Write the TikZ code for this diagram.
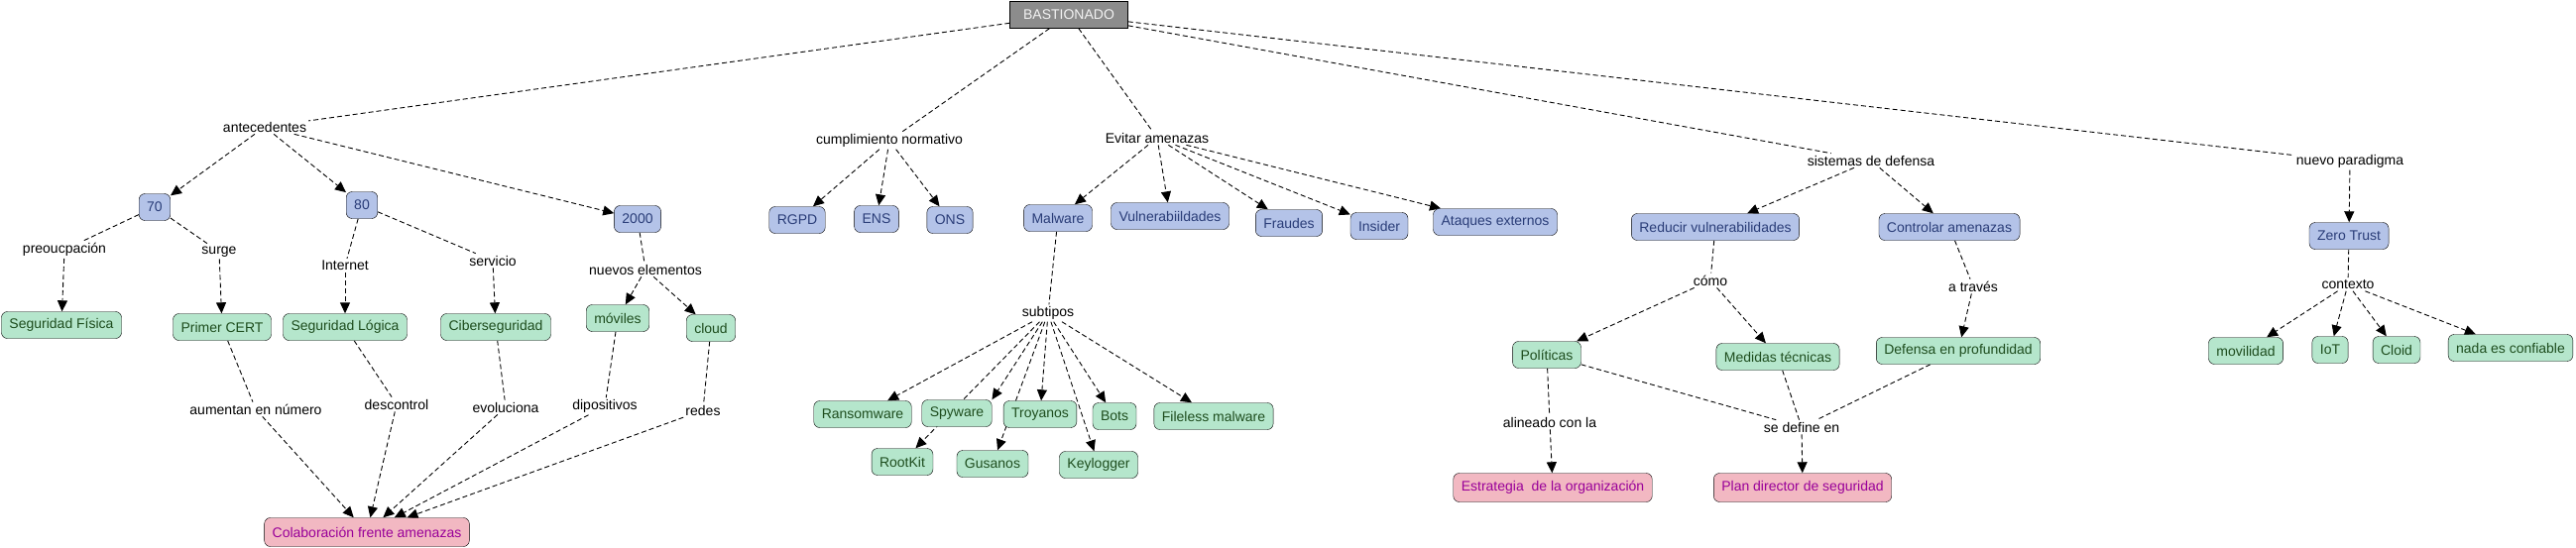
\documentclass[tikz,border=0pt]{standalone}
\usepackage{fontspec}
\setmainfont{Liberation Sans}
\usepackage{tikz}
\usetikzlibrary{arrows.meta}
\pgfdeclarelayer{background}
\pgfsetlayers{background,main}
\definecolor{rootfill}{HTML}{8C8C8C}
\definecolor{roottext}{HTML}{F2F2F2}
\definecolor{bluefill}{HTML}{B4C3E8}
\definecolor{bluetext}{HTML}{2A3D78}
\definecolor{greenfill}{HTML}{B5E6CC}
\definecolor{greentext}{HTML}{1E4D1E}
\definecolor{pinkfill}{HTML}{F2B8C2}
\definecolor{pinktext}{HTML}{990099}

\begin{document}
\begin{tikzpicture}[
    x=1pt, y=-1pt,
    every node/.style={font=\fontsize{14}{16}\selectfont},
    root/.style={rectangle, draw=black, fill=rootfill, text=roottext, minimum width=119pt, minimum height=27pt, inner xsep=8pt},
    concept/.style={rectangle, draw=black, fill=bluefill, text=bluetext, rounded corners=6pt, minimum height=27pt, inner xsep=8pt},
    detail/.style={rectangle, draw=black, fill=greenfill, text=greentext, rounded corners=6pt, minimum height=27pt, inner xsep=8pt},
    target/.style={rectangle, draw=black, fill=pinkfill, text=pinktext, rounded corners=6pt, minimum height=29pt, inner xsep=8pt},
    link/.style={inner sep=2pt, text=black},
    dashlink/.style={draw=black, line width=0.9pt, dash pattern=on 5pt off 3pt},
    dasharrow/.style={dashlink, -{Triangle[length=11pt,width=10pt]}}
]
\useasboundingbox (0,0) rectangle (2598,552);

% top
\node [root] (root) at (1078,15) {BASTIONADO};
\node [link] (antec) at (267,128) {antecedentes};
\node [link] (cumpl) at (897,142) {cumplimiento normativo};
\node [link] (evitar) at (1167,139) {Evitar amenazas};
\node [link] (sistemas) at (1887,162) {sistemas de defensa};
\node [link] (nuevo) at (2370,163) {nuevo paradigma};

% antecedentes
\node [concept] (c70) at (156,209) {70};
\node [concept] (c80) at (365,207) {80};
\node [concept] (c2000) at (643,221) {2000};
\node [link] (preoc) at (65,252) {preoucpación};
\node [link] (surge) at (221,254) {surge};
\node [link] (internet) at (348,268) {Internet};
\node [link] (servicio) at (497,263) {servicio};
\node [link] (nuevos) at (651,272) {nuevos elementos};
\node [detail] (segfis) at (62,328) {Seguridad Física};
\node [detail] (cert) at (224,330) {Primer CERT};
\node [detail] (seglog) at (348,330) {Seguridad Lógica};
\node [detail] (ciber) at (500,330) {Ciberseguridad};
\node [detail] (moviles) at (623,321) {móviles};
\node [detail] (cloud) at (717,331) {cloud};
\node [link] (aumentan) at (258,413) {aumentan en número};
\node [link] (descontrol) at (400,408) {descontrol};
\node [link] (evoluciona) at (510,411) {evoluciona};
\node [link] (dipos) at (610,410) {dipositivos};
\node [link] (redes) at (709,414) {redes};
\node [target] (colab) at (370,537) {Colaboración frente amenazas};

% normativa y amenazas
\node [concept] (rgpd) at (804,222) {RGPD};
\node [concept] (ens) at (884,221) {ENS};
\node [concept] (ons) at (958,222) {ONS};
\node [concept] (malware) at (1067,220) {Malware};
\node [concept] (vuln) at (1180,218) {Vulnerabiildades};
\node [concept] (fraudes) at (1300,225) {Fraudes};
\node [concept] (insider) at (1391,228) {Insider};
\node [concept] (ataques) at (1508,224) {Ataques externos};
\node [link] (subtipos) at (1057,316) {subtipos};
\node [detail] (ransom) at (870,418) {Ransomware};
\node [detail] (spyware) at (965,417) {Spyware};
\node [detail] (troyanos) at (1049,418) {Troyanos};
\node [detail] (bots) at (1124,420) {Bots};
\node [detail] (fileless) at (1224,420) {Fileless malware};
\node [detail] (rootkit) at (910,466) {RootKit};
\node [detail] (gusanos) at (1001,468) {Gusanos};
\node [detail] (keylog) at (1108,469) {Keylogger};

% defensa
\node [concept] (reducir) at (1730,229) {Reducir vulnerabilidades};
\node [concept] (controlar) at (1966,229) {Controlar amenazas};
\node [link] (como) at (1725,283) {cómo};
\node [link] (atraves) at (1990,289) {a través};
\node [detail] (politicas) at (1560,358) {Políticas};
\node [detail] (medidas) at (1793,360) {Medidas técnicas};
\node [detail] (defensa) at (1975,354) {Defensa en profundidad};
\node [link] (alineado) at (1563,426) {alineado con la};
\node [link] (sedefine) at (1817,431) {se define en};
\node [target] (estrategia) at (1566,492) {Estrategia\ \ de la organización};
\node [target] (plan) at (1818,492) {Plan director de seguridad};

% zero trust
\node [concept] (zero) at (2369,238) {Zero Trust};
\node [link] (contexto) at (2368,287) {contexto};
\node [detail] (movilidad) at (2265,354) {movilidad};
\node [detail] (iot) at (2350,353) {IoT};
\node [detail] (cloid) at (2417,353) {Cloid};
\node [detail] (nada) at (2532,351) {nada es confiable};

\begin{pgfonlayer}{background}
\foreach \t in {antec,cumpl,evitar,sistemas,nuevo}
    \draw [dashlink] (root) -- (\t);
\foreach \t in {c70,c80,c2000}
    \draw [dasharrow] (antec) -- (\t);
\draw [dashlink] (c70) -- (preoc);
\draw [dasharrow] (preoc) -- (segfis);
\draw [dashlink] (c70) -- (surge);
\draw [dasharrow] (surge) -- (cert);
\draw [dashlink] (c80) -- (internet);
\draw [dasharrow] (internet) -- (seglog);
\draw [dashlink] (c80) -- (servicio);
\draw [dasharrow] (servicio) -- (ciber);
\draw [dashlink] (c2000) -- (nuevos);
\draw [dasharrow] (nuevos) -- (moviles);
\draw [dasharrow] (nuevos) -- (cloud);
\draw [dashlink] (cert) -- (aumentan);
\draw [dashlink] (seglog) -- (descontrol);
\draw [dashlink] (ciber) -- (evoluciona);
\draw [dashlink] (moviles) -- (dipos);
\draw [dashlink] (cloud) -- (redes);
\foreach \s in {aumentan,descontrol,evoluciona,dipos,redes}
    \draw [dasharrow] (\s) -- (colab);
\foreach \t in {rgpd,ens,ons}
    \draw [dasharrow] (cumpl) -- (\t);
\foreach \t in {malware,vuln,fraudes,insider,ataques}
    \draw [dasharrow] (evitar) -- (\t);
\draw [dashlink] (malware) -- (subtipos);
\foreach \t in {ransom,troyanos,bots,fileless,rootkit,gusanos,keylog}
    \draw [dasharrow] (subtipos) -- (\t);
\draw [dasharrow] (subtipos) -- (spyware.north east);
\draw [dasharrow] (sistemas) -- (reducir);
\draw [dasharrow] (sistemas) -- (controlar);
\draw [dashlink] (reducir) -- (como);
\draw [dasharrow] (como) -- (politicas);
\draw [dasharrow] (como) -- (medidas);
\draw [dashlink] (controlar) -- (atraves);
\draw [dasharrow] (atraves) -- (defensa);
\draw [dashlink] (politicas) -- (alineado);
\draw [dasharrow] (alineado) -- (estrategia);
\foreach \s in {politicas,medidas,defensa}
    \draw [dashlink] (\s) -- (sedefine);
\draw [dasharrow] (sedefine) -- (plan);
\draw [dasharrow] (nuevo) -- (zero);
\draw [dashlink] (zero) -- (contexto);
\foreach \t in {movilidad,iot,cloid,nada}
    \draw [dasharrow] (contexto) -- (\t);
\end{pgfonlayer}
\end{tikzpicture}
\end{document}
